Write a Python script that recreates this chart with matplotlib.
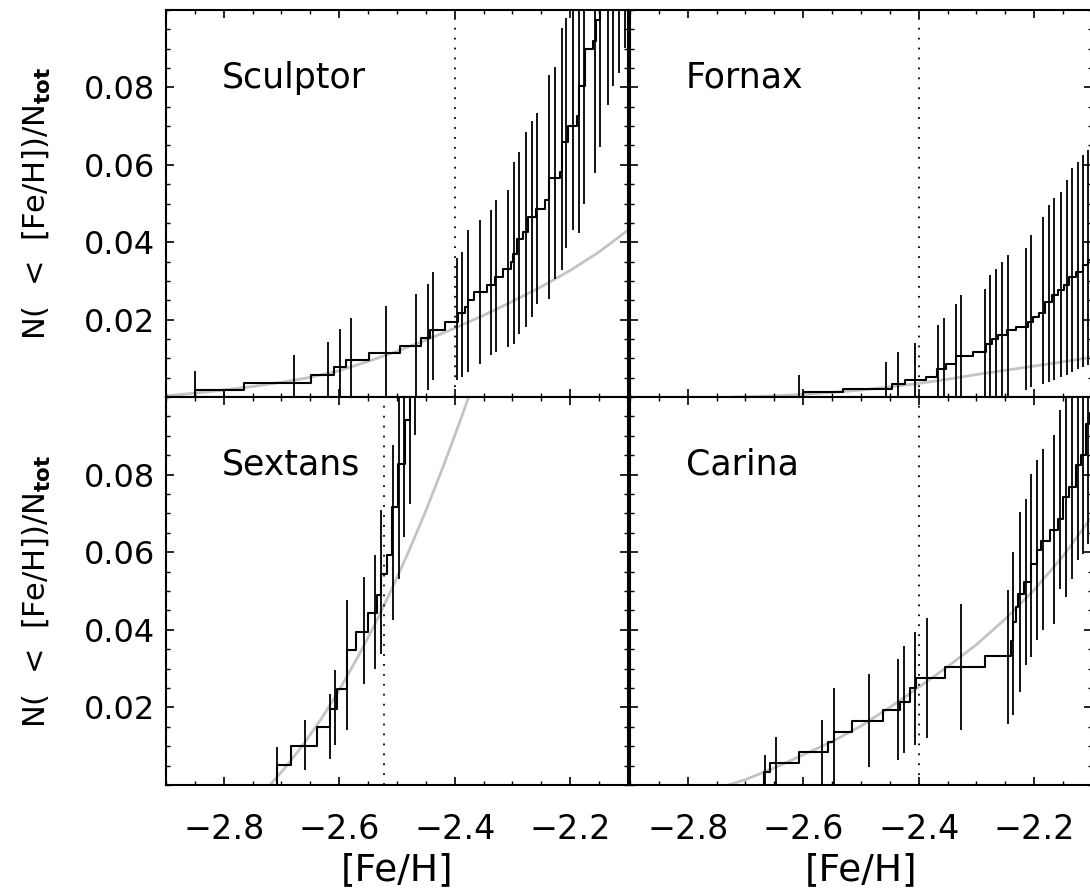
import numpy as np
import matplotlib
matplotlib.use("Agg")
import matplotlib.pyplot as plt
from matplotlib.ticker import MultipleLocator, FixedLocator

# ---------------------------------------------------------------------------
# Cumulative metallicity distributions of four dwarf spheroidals
# ---------------------------------------------------------------------------
galaxies = ["Sculptor", "Fornax", "Sextans", "Carina"]

# metallicity where the dotted reference line is drawn
dotted_feh = {"Sculptor": -2.40, "Fornax": -2.40, "Sextans": -2.522, "Carina": -2.40}

# step positions ([Fe/H]) and cumulative fraction after each step
sculptor_step_feh = [-2.849, -2.765, -2.649, -2.609, -2.589, -2.548, -2.495, -2.458,
                     -2.443, -2.417, -2.394, -2.383, -2.377, -2.366, -2.345, -2.331,
                     -2.316, -2.303, -2.299, -2.293, -2.282, -2.273, -2.259, -2.244,
                     -2.236, -2.218, -2.214, -2.204, -2.189, -2.184, -2.175, -2.161,
                     -2.155, -2.149]
sculptor_step_frac = [0.0017, 0.0036, 0.0057, 0.0077, 0.0095, 0.0113, 0.0133, 0.0153,
                      0.0172, 0.0194, 0.0216, 0.0233, 0.0250, 0.0272, 0.0289, 0.0310,
                      0.0330, 0.0350, 0.0370, 0.0407, 0.0427, 0.0466, 0.0485, 0.0509,
                      0.0565, 0.0582, 0.0660, 0.0701, 0.0725, 0.0803, 0.0898, 0.0919,
                      0.0975, 0.1040]

fornax_step_feh = [-2.600, -2.531, -2.447, -2.424, -2.387, -2.368, -2.352, -2.335,
                   -2.306, -2.283, -2.274, -2.263, -2.248, -2.231, -2.211, -2.202,
                   -2.191, -2.182, -2.170, -2.159, -2.148, -2.139, -2.127, -2.116,
                   -2.107]
fornax_step_frac = [0.0012, 0.0021, 0.0034, 0.0043, 0.0051, 0.0073, 0.0086, 0.0105,
                    0.0116, 0.0138, 0.0151, 0.0159, 0.0172, 0.0181, 0.0194, 0.0207,
                    0.0216, 0.0246, 0.0263, 0.0276, 0.0289, 0.0310, 0.0323, 0.0341,
                    0.0354]

sextans_step_feh = [-2.708, -2.683, -2.639, -2.616, -2.604, -2.587, -2.571, -2.550,
                    -2.535, -2.527, -2.518, -2.508, -2.498, -2.487, -2.478]
sextans_step_frac = [0.0051, 0.0100, 0.0149, 0.0197, 0.0248, 0.0347, 0.0394, 0.0443,
                     0.0489, 0.0545, 0.0592, 0.0716, 0.0828, 0.0940, 0.1050]

carina_step_feh = [-2.668, -2.658, -2.608, -2.557, -2.547, -2.516, -2.462, -2.433,
                   -2.416, -2.404, -2.355, -2.286, -2.240, -2.237, -2.232, -2.228,
                   -2.217, -2.205, -2.196, -2.188, -2.173, -2.159, -2.150, -2.139,
                   -2.127, -2.119, -2.110, -2.104]
carina_step_frac = [0.0034, 0.0057, 0.0085, 0.0112, 0.0137, 0.0165, 0.0193, 0.0215,
                    0.0249, 0.0275, 0.0303, 0.0332, 0.0370, 0.0420, 0.0460, 0.0493,
                    0.0523, 0.0570, 0.0605, 0.0630, 0.0658, 0.0686, 0.0742, 0.0768,
                    0.0824, 0.0850, 0.0931, 0.0960]

# vertical error bars: position, lower and upper fraction
sculptor_err_feh = [-2.849, -2.799, -2.679, -2.619, -2.599, -2.579, -2.519, -2.467,
                    -2.447, -2.437, -2.396, -2.387, -2.377, -2.357, -2.337, -2.328,
                    -2.308, -2.298, -2.288, -2.277, -2.267, -2.258, -2.236, -2.226,
                    -2.215, -2.207, -2.196, -2.185, -2.177, -2.158, -2.149, -2.135,
                    -2.126, -2.116, -2.106]
sculptor_err_lo = [0.0, 0.0, 0.0, 0.0, 0.0, 0.0, 0.0, 0.0,
                   0.0017, 0.0043, 0.0043, 0.0051, 0.0064, 0.0086, 0.0108, 0.0116,
                   0.0129, 0.0138, 0.0164, 0.0181, 0.0207, 0.0241, 0.0254, 0.0306,
                   0.0328, 0.0384, 0.0431, 0.0423, 0.0500, 0.0578, 0.0647, 0.0755,
                   0.0803, 0.0837, 0.0902]
sculptor_err_hi = [0.0067, 0.0019, 0.0108, 0.0142, 0.0175, 0.0205, 0.0236, 0.0267,
                   0.0293, 0.0323, 0.0358, 0.0375, 0.0431, 0.0457, 0.0483, 0.0509,
                   0.0535, 0.0608, 0.0634, 0.0686, 0.0712, 0.0734, 0.0833, 0.0854,
                   0.0954, 0.0980, 0.1050, 0.1080, 0.1100, 0.1150, 0.1200, 0.1250,
                   0.1280, 0.1300, 0.1350]

fornax_err_feh = [-2.607, -2.456, -2.436, -2.406, -2.367, -2.356, -2.336, -2.326,
                  -2.286, -2.276, -2.266, -2.256, -2.246, -2.215, -2.205, -2.185,
                  -2.175, -2.165, -2.154, -2.144, -2.134, -2.124, -2.116, -2.107]
fornax_err_lo = [0.0, 0.0, 0.0, 0.0, 0.0, 0.0, 0.0, 0.0,
                 0.0, 0.0, 0.0, 0.0, 0.0, 0.0017, 0.0025, 0.0034,
                 0.0038, 0.0043, 0.0051, 0.0056, 0.0064, 0.0073, 0.0077, 0.0082]
fornax_err_hi = [0.0058, 0.0090, 0.0116, 0.0139, 0.0185, 0.0203, 0.0241, 0.0263,
                 0.0280, 0.0315, 0.0332, 0.0349, 0.0367, 0.0384, 0.0418, 0.0466,
                 0.0496, 0.0513, 0.0531, 0.0561, 0.0591, 0.0606, 0.0626, 0.0639]

sextans_err_feh = [-2.708, -2.660, -2.616, -2.608, -2.587, -2.557, -2.538, -2.527,
                   -2.507, -2.497, -2.488, -2.478, -2.468]
sextans_err_lo = [0.0034, 0.0038, 0.0068, 0.0102, 0.0141, 0.0261, 0.0300, 0.0338,
                  0.0424, 0.0532, 0.0639, 0.0725, 0.0901]
sextans_err_hi = [0.0098, 0.0168, 0.0235, 0.0296, 0.0476, 0.0536, 0.0592, 0.0708,
                  0.0876, 0.1100, 0.1150, 0.1200, 0.1300]

carina_err_feh = [-2.666, -2.647, -2.567, -2.547, -2.487, -2.436, -2.426, -2.407,
                  -2.385, -2.326, -2.246, -2.236, -2.225, -2.215, -2.205, -2.195,
                  -2.185, -2.165, -2.155, -2.145, -2.135, -2.124, -2.115, -2.107]
carina_err_lo = [-0.0013, -0.0013, 0.0003, 0.0003, 0.0046, 0.0064, 0.0083, 0.0103,
                 0.0120, 0.0141, 0.0158, 0.0180, 0.0240, 0.0309, 0.0330, 0.0373,
                 0.0399, 0.0416, 0.0506, 0.0485, 0.0532, 0.0579, 0.0596, 0.0622]
carina_err_hi = [0.0077, 0.0125, 0.0168, 0.0249, 0.0286, 0.0325, 0.0358, 0.0395,
                 0.0431, 0.0467, 0.0502, 0.0600, 0.0704, 0.0738, 0.0802, 0.0837,
                 0.0867, 0.0901, 0.0966, 0.1050, 0.1100, 0.1150, 0.1200, 0.1250]

# model curves (grey)
sculptor_model_feh = [-2.90, -2.85, -2.80, -2.75, -2.70, -2.65, -2.60, -2.55, -2.50,
                      -2.45, -2.40, -2.35, -2.30, -2.25, -2.20, -2.15, -2.10]
sculptor_model_frac = [0.0003, 0.0010, 0.0018, 0.0027, 0.0038, 0.0051, 0.0068, 0.0092,
                       0.0118, 0.0147, 0.0178, 0.0211, 0.0247, 0.0285, 0.0327, 0.0375,
                       0.0431]

fornax_model_feh = [-2.72, -2.68, -2.65, -2.60, -2.55, -2.50, -2.45, -2.40, -2.35,
                    -2.30, -2.25, -2.20, -2.15, -2.10]
fornax_model_frac = [0.0000, 0.0001, 0.0003, 0.0007, 0.0012, 0.0018, 0.0026, 0.0035,
                     0.0046, 0.0058, 0.0069, 0.0080, 0.0091, 0.0103]

sextans_model_feh = [-2.72, -2.69, -2.66, -2.63, -2.60, -2.57, -2.54, -2.51, -2.48,
                     -2.45, -2.42, -2.39, -2.37]
sextans_model_frac = [0.0000, 0.0051, 0.0109, 0.0173, 0.0245, 0.0324, 0.0409, 0.0502,
                      0.0601, 0.0707, 0.0821, 0.0941, 0.1025]

carina_model_feh = [-2.73, -2.70, -2.65, -2.60, -2.55, -2.50, -2.45, -2.40, -2.35,
                    -2.30, -2.25, -2.20, -2.15, -2.10]
carina_model_frac = [0.0000, 0.0014, 0.0044, 0.0078, 0.0112, 0.0152, 0.0200, 0.0252,
                     0.0305, 0.0362, 0.0428, 0.0503, 0.0590, 0.0692]

steps = {
    "Sculptor": (sculptor_step_feh, sculptor_step_frac),
    "Fornax": (fornax_step_feh, fornax_step_frac),
    "Sextans": (sextans_step_feh, sextans_step_frac),
    "Carina": (carina_step_feh, carina_step_frac),
}
errors = {
    "Sculptor": (sculptor_err_feh, sculptor_err_lo, sculptor_err_hi),
    "Fornax": (fornax_err_feh, fornax_err_lo, fornax_err_hi),
    "Sextans": (sextans_err_feh, sextans_err_lo, sextans_err_hi),
    "Carina": (carina_err_feh, carina_err_lo, carina_err_hi),
}
models = {
    "Sculptor": (sculptor_model_feh, sculptor_model_frac),
    "Fornax": (fornax_model_feh, fornax_model_frac),
    "Sextans": (sextans_model_feh, sextans_model_frac),
    "Carina": (carina_model_feh, carina_model_frac),
}

x_ticks = [-2.8, -2.6, -2.4, -2.2]
y_ticks = [0.02, 0.04, 0.06, 0.08]
x_range = (-2.9, -2.1)
y_range = (0.0, 0.1)

plt.rcParams.update({
    "font.family": "DejaVu Sans",
    "xtick.direction": "in",
    "ytick.direction": "in",
    "xtick.top": True,
    "ytick.right": True,
    "xtick.major.size": 6,
    "ytick.major.size": 6,
    "xtick.minor.size": 3,
    "ytick.minor.size": 3,
    "xtick.major.width": 1.2,
    "ytick.major.width": 1.2,
    "xtick.minor.width": 1.0,
    "ytick.minor.width": 1.0,
    "axes.linewidth": 1.5,
})

W, H = 1090, 892
fig = plt.figure(figsize=(W / 100, H / 100), dpi=100)

# panel rectangles in pixels: left, top, right, bottom
boxes = {
    "Sculptor": (166, 10, 628, 397),
    "Fornax": (630, 10, 1092, 397),
    "Sextans": (166, 397, 628, 785),
    "Carina": (630, 397, 1092, 785),
}

ylabel_text = r"N(  <  [Fe/H])/N$_{\mathbf{tot}}$"

for name in galaxies:
    l, t, r, b = boxes[name]
    ax = fig.add_axes([l / W, 1 - b / H, (r - l) / W, (b - t) / H])
    ax.set_xlim(*x_range)
    ax.set_ylim(*y_range)

    # model curve
    mx, my = models[name]
    ax.plot(mx, my, color="#c4c4c4", lw=2.0, zorder=1, solid_capstyle="butt")

    # cumulative step function
    sx = np.asarray(steps[name][0])
    sy = np.asarray(steps[name][1])
    ax.step(np.r_[sx[0], sx, x_range[1]], np.r_[0.0, sy, sy[-1]],
            where="post", color="black", lw=1.5, zorder=3)

    # error bars
    ex, elo, ehi = errors[name]
    ax.vlines(ex, elo, ehi, color="black", lw=1.3, zorder=2)

    # reference metallicity
    ax.axvline(dotted_feh[name], color="black", lw=1.3,
               linestyle=(0, (1, 4.5)), zorder=2)

    ax.text(0.121, 0.825, name, transform=ax.transAxes, fontsize=25,
            ha="left", va="center")

    ax.xaxis.set_major_locator(FixedLocator(x_ticks))
    ax.xaxis.set_minor_locator(MultipleLocator(0.05))
    ax.yaxis.set_major_locator(FixedLocator(y_ticks))
    ax.yaxis.set_minor_locator(MultipleLocator(0.005))
    ax.tick_params(axis="x", which="both", pad=20, labelsize=24)
    ax.tick_params(axis="y", which="both", pad=8, labelsize=23)

    left_col = name in ("Sculptor", "Sextans")
    bottom_row = name in ("Sextans", "Carina")

    if left_col:
        ax.set_yticklabels([f"{v:.2f}" for v in y_ticks])
        ax.set_ylabel(ylabel_text, fontsize=22, va="center")
        ax.yaxis.set_label_coords(-0.279, 0.5)
    else:
        ax.set_yticklabels([])

    if bottom_row:
        ax.set_xticklabels([f"\u2212{abs(v):.1f}" for v in x_ticks])
        ax.set_xlabel("[Fe/H]", fontsize=27, va="center")
        ax.xaxis.set_label_coords(0.5, -0.219)
    else:
        ax.set_xticklabels([])

fig.savefig("out.png", dpi=100)
